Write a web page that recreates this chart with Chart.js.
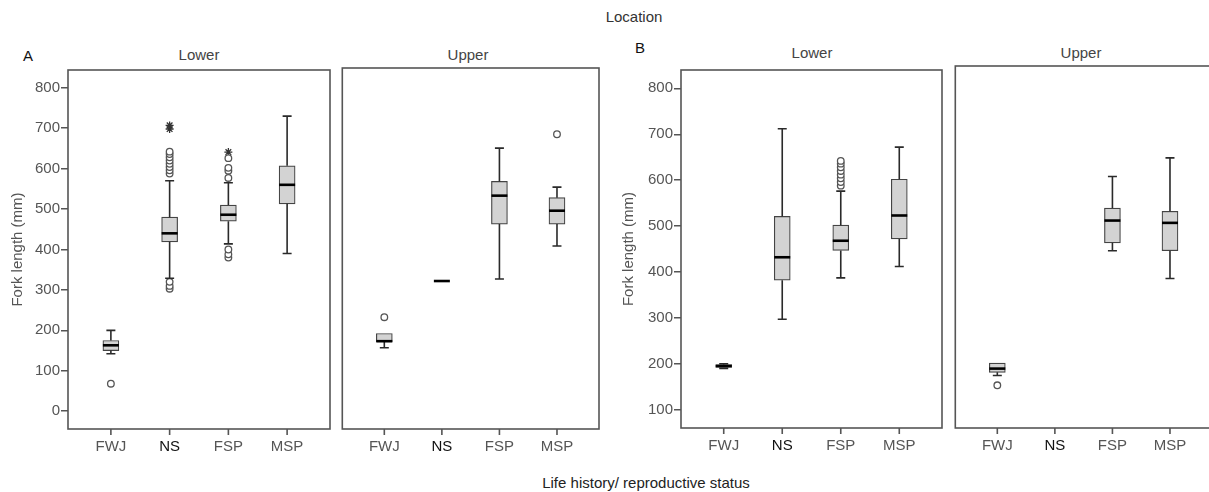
<!DOCTYPE html>
<html>
<head>
<meta charset="utf-8">
<title>Fork length by life history and location</title>
<script src="https://cdn.jsdelivr.net/npm/chart.js@4.4.0/dist/chart.umd.min.js"></script>
<style>
    body {
        margin: 0;
        width: 1209px;
        height: 492px;
        overflow: hidden;
        position: relative;
        background: #fff;
        font-family: "Liberation Sans", Arial, sans-serif;
    }
    .txt {
        position: absolute;
        white-space: nowrap;
        transform: translate(-50%, -50%);
        font-size: 15px;
        color: #444;
    }
    canvas {
        position: absolute;
    }
</style>
</head>
<body>
<div class="txt" style="left:634px; top:16px; color:#333;">Location</div>
<div class="txt" style="left:28px; top:55px; color:#111;">A</div>
<div class="txt" style="left:640px; top:47px; color:#111;">B</div>
<div class="txt" style="left:199px; top:54px;">Lower</div>
<div class="txt" style="left:468px; top:54px;">Upper</div>
<div class="txt" style="left:812px; top:52px;">Lower</div>
<div class="txt" style="left:1081px; top:52px;">Upper</div>
<div class="txt" style="left:646px; top:482px; color:#222;">Life history/ reproductive status</div>

<canvas id="aLower" width="340" height="400" style="left:0px; top:60px;"></canvas>
<canvas id="aUpper" width="272" height="400" style="left:337px; top:60px;"></canvas>
<canvas id="bLower" width="339" height="400" style="left:613px; top:60px;"></canvas>
<canvas id="bUpper" width="272" height="400" style="left:950px; top:60px;"></canvas>

<script>
// Categories and axis ticks
const categories = ['FWJ', 'NS', 'FSP', 'MSP'];
const yTicksA = [0, 100, 200, 300, 400, 500, 600, 700, 800];
const yTicksB = [100, 200, 300, 400, 500, 600, 700, 800];

// A - Lower
const aLowerMin = [142, 329, 414, 390];
const aLowerQ1 = [150, 419, 470, 513];
const aLowerMedian = [163, 440, 486, 560];
const aLowerQ3 = [175, 480, 510, 607];
const aLowerMax = [200, 570, 565, 730];
const aLowerOutliers = [[68], [303, 310, 320, 588, 596, 604, 612, 620, 628, 636, 642], [380, 388, 400, 577, 595, 602, 626], []];
const aLowerExtremes = [[], [698, 707], [641], []];

// A - Upper
const aUpperMin = [156, 320, 325, 406];
const aUpperQ1 = [170, 320, 460, 460];
const aUpperMedian = [172, 320, 530, 493];
const aUpperQ3 = [191, 320, 565, 525];
const aUpperMax = [191, 320, 647, 551];
const aUpperOutliers = [[231], [], [], [681]];
const aUpperExtremes = [[], [], [], []];

// B - Lower
const bLowerMin = [190, 297, 387, 412];
const bLowerQ1 = [192, 382, 447, 472];
const bLowerMedian = [195, 432, 468, 523];
const bLowerQ3 = [198, 521, 502, 602];
const bLowerMax = [200, 712, 576, 672];
const bLowerOutliers = [[], [], [588, 596, 604, 612, 620, 628, 636, 642], []];
const bLowerExtremes = [[], [], [], []];

// B - Upper (no NS fish)
const bUpperMin = [173, null, 442, 382];
const bUpperQ1 = [180, null, 459, 442];
const bUpperMedian = [188, null, 507, 502];
const bUpperQ3 = [200, null, 534, 527];
const bUpperMax = [200, null, 602, 642];
const bUpperOutliers = [[152], [], [], []];
const bUpperExtremes = [[], [], [], []];

const FONT = '"Liberation Sans", Arial, sans-serif';
Chart.defaults.font.family = FONT;

/**
 * Draws whiskers, caps and medians on top of the floating bars,
 * and the frame around the plot area with the category tick marks
 */
const boxPlugin = {
    id: 'boxWhiskers',
    afterDatasetsDraw(chart, args, opts) {
        const ctx = chart.ctx;
        const x = chart.scales.x;
        const y = chart.scales.y;
        const half = 8;
        const cap = 4.5;

        ctx.save();
        categories.forEach((c, i) => {
            if (opts.median[i] == null) return;
            const px = x.getPixelForValue(i);
            const yMin = y.getPixelForValue(opts.min[i]);
            const yQ1 = y.getPixelForValue(opts.q1[i]);
            const yQ3 = y.getPixelForValue(opts.q3[i]);
            const yMax = y.getPixelForValue(opts.max[i]);
            const yMed = y.getPixelForValue(opts.median[i]);

            ctx.strokeStyle = '#2a2a2a';
            ctx.lineWidth = 1.6;
            ctx.beginPath();
            if (opts.max[i] > opts.q3[i]) {
                ctx.moveTo(px, yQ3);
                ctx.lineTo(px, yMax);
                ctx.moveTo(px - cap, yMax);
                ctx.lineTo(px + cap, yMax);
            }
            if (opts.min[i] < opts.q1[i]) {
                ctx.moveTo(px, yQ1);
                ctx.lineTo(px, yMin);
                ctx.moveTo(px - cap, yMin);
                ctx.lineTo(px + cap, yMin);
            }
            ctx.stroke();

            // median
            ctx.strokeStyle = '#000';
            ctx.lineWidth = 2.6;
            ctx.beginPath();
            ctx.moveTo(px - half, yMed);
            ctx.lineTo(px + half, yMed);
            ctx.stroke();
        });
        ctx.restore();
    },
    afterDraw(chart) {
        const a = chart.chartArea;
        const ctx = chart.ctx;
        const x = chart.scales.x;
        ctx.save();
        ctx.strokeStyle = '#555';
        ctx.lineWidth = 1.6;
        ctx.strokeRect(a.left, a.top, a.right - a.left, a.bottom - a.top);

        // category tick marks below the frame
        ctx.beginPath();
        categories.forEach((c, i) => {
            const px = x.getPixelForValue(i);
            ctx.moveTo(px, a.bottom);
            ctx.lineTo(px, a.bottom + 6);
        });
        ctx.stroke();
        ctx.restore();
    }
};

/**
 * Turn per-category value lists into scatter points
 */
function toPoints(lists) {
    const pts = [];
    lists.forEach((vals, i) => vals.forEach(v => pts.push({ x: i, y: v })));
    return pts;
}

/**
 * Build one box plot panel
 */
function makePanel(id, s, yMin, yMax, yTicks, showY, padTop, xHeight, titlePad) {
    const boxes = [];
    categories.forEach((c, i) => {
        if (s.q1[i] != null) boxes.push({ x: i, y: [s.q1[i], s.q3[i]] });
    });

    new Chart(document.getElementById(id), {
        type: 'bar',
        data: {
            datasets: [
                {
                    data: boxes,
                    backgroundColor: '#d3d3d3',
                    borderColor: '#444',
                    borderWidth: 1.2,
                    borderSkipped: false,
                    barThickness: 16
                },
                {
                    type: 'scatter',
                    data: toPoints(s.outliers),
                    pointStyle: 'circle',
                    pointRadius: 3.3,
                    pointBackgroundColor: '#fff',
                    pointBorderColor: '#555',
                    pointBorderWidth: 1.3
                },
                {
                    type: 'scatter',
                    data: toPoints(s.extremes),
                    pointStyle: 'star',
                    pointRadius: 4,
                    pointBorderColor: '#333',
                    pointBorderWidth: 1.3
                }
            ]
        },
        options: {
            responsive: false,
            animation: false,
            events: [],
            layout: { padding: { top: padTop, right: 10, bottom: 0, left: 0 } },
            plugins: {
                legend: { display: false },
                tooltip: { enabled: false },
                boxWhiskers: s
            },
            scales: {
                x: {
                    type: 'linear',
                    min: -0.73,
                    max: 3.73,
                    offset: false,
                    afterBuildTicks: sc => { sc.ticks = categories.map((c, i) => ({ value: i })); },
                    afterFit: sc => { sc.height = xHeight; },
                    ticks: {
                        callback: v => categories[v],
                        autoSkip: false,
                        maxRotation: 0,
                        padding: 3,
                        color: ctx => (ctx.tick && ctx.tick.value === 1) ? '#111' : '#555',
                        font: { size: 15, family: FONT }
                    },
                    grid: { display: true, offset: false, drawOnChartArea: false, drawTicks: true, tickLength: 6, color: 'rgba(0,0,0,0)' },
                    border: { display: false }
                },
                y: {
                    min: yMin,
                    max: yMax,
                    display: showY,
                    afterBuildTicks: sc => { sc.ticks = yTicks.map(v => ({ value: v })); },
                    afterFit: sc => { sc.width = showY ? 68 : 0; },
                    ticks: { color: '#555', padding: 1, font: { size: 15, family: FONT } },
                    grid: { drawOnChartArea: false, tickLength: 7, color: '#555', lineWidth: 1.5 },
                    border: { display: false },
                    title: {
                        display: showY,
                        text: 'Fork length (mm)',
                        color: '#555',
                        font: { size: 15, family: FONT },
                        padding: { top: titlePad, bottom: 0 }
                    }
                }
            }
        },
        plugins: [boxPlugin]
    });
}

document.addEventListener('DOMContentLoaded', function() {
    makePanel('aLower', {
        min: aLowerMin, q1: aLowerQ1, median: aLowerMedian, q3: aLowerQ3, max: aLowerMax,
        outliers: aLowerOutliers, extremes: aLowerExtremes
    }, -44, 844, yTicksA, true, 8, 31, 9);

    makePanel('aUpper', {
        min: aUpperMin, q1: aUpperQ1, median: aUpperMedian, q3: aUpperQ3, max: aUpperMax,
        outliers: aUpperOutliers, extremes: aUpperExtremes
    }, -44, 844, yTicksA, false, 8, 31, 0);

    makePanel('bLower', {
        min: bLowerMin, q1: bLowerQ1, median: bLowerMedian, q3: bLowerQ3, max: bLowerMax,
        outliers: bLowerOutliers, extremes: bLowerExtremes
    }, 60, 840, yTicksB, true, 6, 32, 7);

    makePanel('bUpper', {
        min: bUpperMin, q1: bUpperQ1, median: bUpperMedian, q3: bUpperQ3, max: bUpperMax,
        outliers: bUpperOutliers, extremes: bUpperExtremes
    }, 60, 840, yTicksB, false, 6, 32, 0);
});
</script>
</body>
</html>
